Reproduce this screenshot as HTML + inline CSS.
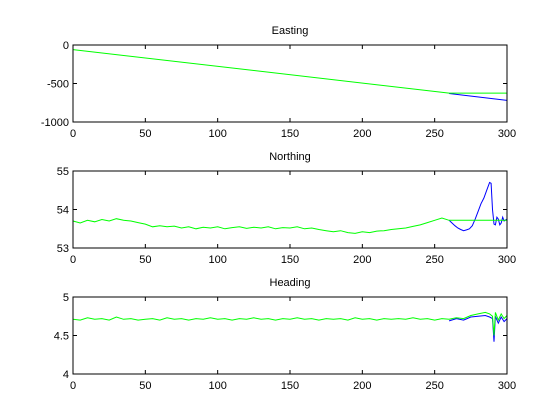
<!DOCTYPE html>
<html><head><meta charset="utf-8"><style>
body{margin:0;background:#fff;}
svg{display:block;font-family:"Liberation Sans",sans-serif;font-size:11px;}
</style></head><body>
<svg id="chart" width="560" height="420" viewBox="0 0 560 420" xmlns="http://www.w3.org/2000/svg">
<rect width="560" height="420" fill="#fff"/>
</svg>
<script>
const xTicks = [0,50,100,150,200,250,300];
const titles = ["Easting","Northing","Heading"];
const eastYTicks = [0,-500,-1000];
const northYTicks = [55,54,53];
const headYTicks = [5,4.5,4];
// Easting
const eastGreenX = [0,260,300];
const eastGreenY = [-60,-625,-625];
const eastBlueX = [260,300];
const eastBlueY = [-630,-720];
// Northing
const northGreenX = [0,5,10,15,20,25,30,35,40,45,50,55,60,65,70,75,80,85,90,95,100,105,110,115,120,125,130,135,140,145,150,155,160,165,170,175,180,185,190,195,200,205,210,215,220,225,230,235,240,245,250,255,260,300];
const northGreenY = [53.70,53.65,53.72,53.68,53.74,53.70,53.76,53.72,53.70,53.66,53.62,53.55,53.58,53.55,53.57,53.52,53.55,53.50,53.54,53.52,53.55,53.50,53.53,53.55,53.51,53.54,53.52,53.55,53.50,53.53,53.52,53.55,53.50,53.52,53.48,53.45,53.42,53.45,53.40,53.38,53.42,53.40,53.44,53.45,53.48,53.50,53.52,53.56,53.60,53.66,53.72,53.78,53.72,53.72];
const northBlueX = [260,262,264,266,268,270,272,274,276,278,280,282,284,286,288,289,290,291,292,293,294,295,296,297,298,300];
const northBlueY = [53.72,53.65,53.58,53.52,53.48,53.45,53.47,53.50,53.58,53.75,53.95,54.15,54.30,54.50,54.70,54.68,54.00,53.62,53.60,53.80,53.75,53.60,53.65,53.80,53.70,53.75];
// Heading
const headGreenX = [0,5,10,15,20,25,30,35,40,45,50,55,60,65,70,75,80,85,90,95,100,105,110,115,120,125,130,135,140,145,150,155,160,165,170,175,180,185,190,195,200,205,210,215,220,225,230,235,240,245,250,255,260,265,270,275,280,285,288,290,291,292,294,296,298,300];
const headGreenY = [4.71,4.70,4.73,4.71,4.72,4.70,4.74,4.71,4.72,4.70,4.71,4.72,4.70,4.73,4.71,4.72,4.70,4.72,4.71,4.73,4.71,4.72,4.70,4.72,4.71,4.73,4.71,4.72,4.70,4.72,4.71,4.73,4.71,4.72,4.70,4.72,4.71,4.72,4.70,4.73,4.71,4.72,4.70,4.72,4.71,4.72,4.71,4.73,4.71,4.72,4.70,4.72,4.71,4.73,4.72,4.76,4.78,4.80,4.78,4.75,4.50,4.80,4.70,4.78,4.72,4.76];
const headBlueX = [260,265,270,275,280,285,288,290,291,292,294,296,298,300];
const headBlueY = [4.69,4.72,4.70,4.74,4.75,4.76,4.74,4.72,4.42,4.75,4.66,4.74,4.68,4.72];

const svg = document.getElementById('chart');
const NS = 'http://www.w3.org/2000/svg';
const L = 73, R = 507;
const panels = [
 {top:45,bottom:122,min:-1000,max:0,yt:eastYTicks,series:[[eastBlueX,eastBlueY,'#0000ff'],[eastGreenX,eastGreenY,'#00ff00']]},
 {top:171,bottom:248,min:53,max:55,yt:northYTicks,series:[[northBlueX,northBlueY,'#0000ff'],[northGreenX,northGreenY,'#00ff00']]},
 {top:297,bottom:374,min:4,max:5,yt:headYTicks,series:[[headBlueX,headBlueY,'#0000ff'],[headGreenX,headGreenY,'#00ff00']]}
];
function mk(tag, attrs){const e=document.createElementNS(NS,tag);for(const k in attrs)e.setAttribute(k,attrs[k]);return e;}
const names=['easting','northing','heading'];
panels.forEach((p,i)=>{
  const g = mk('g',{});
  
  
  svg.appendChild(g);
  const sx = v => L + (v-0)/(300-0)*(R-L);
  const sy = v => p.bottom - (v-p.min)/(p.max-p.min)*(p.bottom-p.top);
  const t = mk('text',{x:(L+R)/2,y:p.top-11,'text-anchor':'middle'});
  t.textContent = titles[i];
  
  
  g.appendChild(t);
  p.series.forEach((s,j)=>{
    const pts = s[0].map((x,k)=>sx(x).toFixed(1)+','+sy(s[1][k]).toFixed(1)).join(' ');
    const pl = mk('polyline',{points:pts,fill:'none',stroke:s[2],'stroke-width':1});
    
    
    g.appendChild(pl);
  });
  const box = mk('rect',{x:L,y:p.top,width:R-L,height:p.bottom-p.top,fill:'none',stroke:'#000','stroke-width':1});
  
  
  g.appendChild(box);
  xTicks.forEach(v=>{
    const x = sx(v);
    g.appendChild(mk('line',{x1:x,x2:x,y1:p.bottom,y2:p.bottom-4,stroke:'#000'}));
    g.appendChild(mk('line',{x1:x,x2:x,y1:p.top,y2:p.top+4,stroke:'#000'}));
    const tl = mk('text',{x:x,y:p.bottom+15,'text-anchor':'middle'});
    tl.textContent = v;
    
    
    g.appendChild(tl);
  });
  p.yt.forEach(v=>{
    const y = sy(v);
    g.appendChild(mk('line',{x1:L,x2:L+4,y1:y,y2:y,stroke:'#000'}));
    g.appendChild(mk('line',{x1:R,x2:R-4,y1:y,y2:y,stroke:'#000'}));
    const tl = mk('text',{x:L-4,y:y+4,'text-anchor':'end'});
    tl.textContent = v;
    
    
    g.appendChild(tl);
  });
});
</script>
</body></html>
